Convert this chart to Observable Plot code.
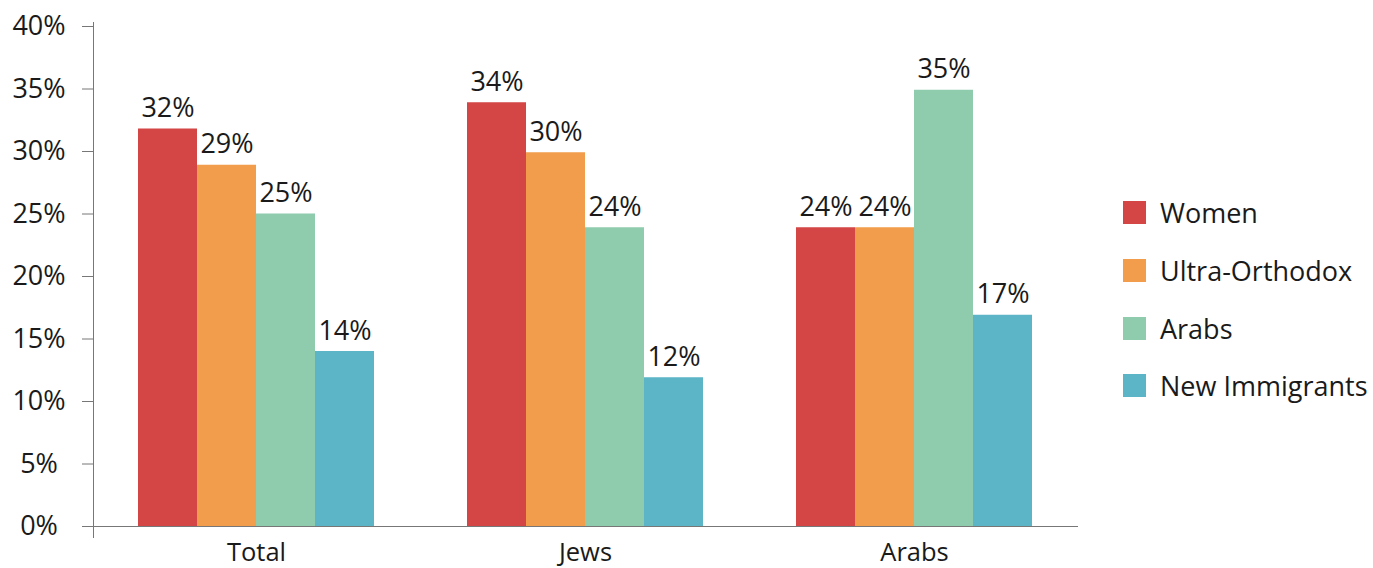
<!DOCTYPE html>
<html><head><meta charset="utf-8">
<script src="https://cdn.jsdelivr.net/npm/d3@7"></script>
<script src="https://cdn.jsdelivr.net/npm/@observablehq/plot@0.6"></script>
<style>
body{margin:0;background:#fff;font-family:"Open Sans",sans-serif;color:#1a1a1a;}
#wrap{position:relative;width:1373px;height:568px;overflow:hidden;}
#chart{position:absolute;left:0;top:0;}
#legend{position:absolute;left:1123px;top:184px;}
.row{display:flex;align-items:center;height:57.7px;}
.sw{width:23px;height:23px;margin-right:14px;flex:none;}
.lab{font-size:27px;white-space:nowrap;}
</style></head><body>
<div id="wrap"><div id="chart"></div><div id="legend"></div></div>
<script>
const groups = ["Total", "Jews", "Arabs"];
const series = ["Women", "Ultra-Orthodox", "Arabs", "New Immigrants"];
const women = [31.8, 33.9, 23.9];
const ultraOrthodox = [28.9, 29.9, 23.9];
const arabs = [25.0, 23.9, 34.9];
const newImmigrants = [14.0, 11.9, 16.9];
const colors = ["#D44545", "#F29D4B", "#8FCBAD", "#5BB5C6"];
const yTicks = [0, 5, 10, 15, 20, 25, 30, 35, 40];

const seriesValues = [women, ultraOrthodox, arabs, newImmigrants];
const data = [];
groups.forEach((g, gi) => series.forEach((s, si) => data.push({group: g, series: s, value: seriesValues[si][gi]})));

const fmt = d => d + "%";
const axisColor = "#777";

const chart = Plot.plot({
  width: 1100,
  height: 568,
  marginLeft: 137,
  marginRight: 68,
  marginTop: 26,
  marginBottom: 42,
  style: {fontFamily: "'Open Sans', sans-serif", fontSize: "25px", color: "#1a1a1a", background: "transparent", overflow: "visible"},
  fx: {domain: groups, paddingInner: 0.2838, paddingOuter: 0, label: null},
  x: {domain: series, padding: 0, axis: null, round: false},
  y: {domain: [0, 40], label: null},
  color: {domain: series, range: colors},
  marks: [
    Plot.barY(data, {fx: "group", x: "series", y: "value", fill: "series"}),
    Plot.text(data, {fx: "group", x: "series", y: "value", text: d => Math.round(d.value) + "%", lineAnchor: "bottom", dy: -12, fontSize: 27}),
    Plot.axisY({ticks: yTicks, tickFormat: fmt, tickSize: 11, tickPadding: 43.5, textAnchor: "middle", fontSize: 27, stroke: axisColor, dx: -45, label: null}),
    Plot.axisFx({anchor: "bottom", tickSize: 0, tickPadding: 16, fontSize: 25.5, label: null}),
    Plot.frame({anchor: "left", facet: "super", insetLeft: -45, insetTop: -4, insetBottom: -11, stroke: axisColor}),
    Plot.frame({anchor: "bottom", facet: "super", insetLeft: -56, insetRight: -45, stroke: axisColor})
  ]
});
document.getElementById("chart").appendChild(chart);

const legend = document.getElementById("legend");
series.forEach((s, i) => {
  const row = document.createElement("div");
  row.className = "row";
  const sw = document.createElement("div");
  sw.className = "sw";
  sw.style.background = colors[i];
  const lab = document.createElement("span");
  lab.className = "lab";
  lab.textContent = s;
  row.appendChild(sw);
  row.appendChild(lab);
  legend.appendChild(row);
});
</script>
</body></html>
